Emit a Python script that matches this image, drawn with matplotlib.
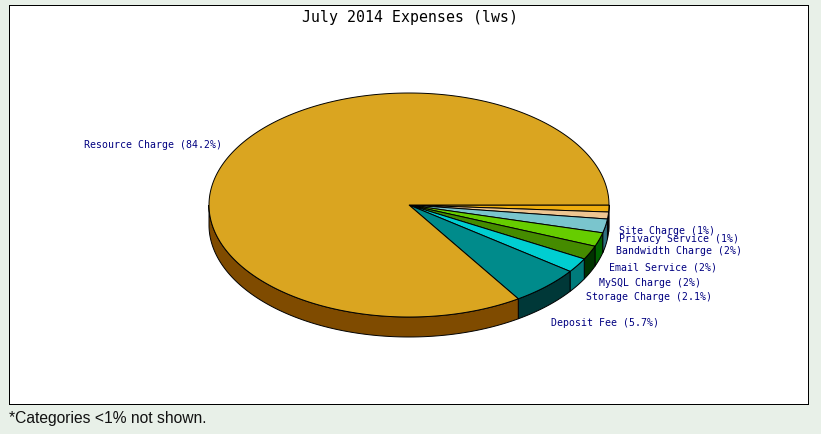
import numpy as np
import matplotlib
matplotlib.use('Agg')
import matplotlib.pyplot as plt
from matplotlib.patches import Rectangle

# slices go clockwise starting from 3 o'clock
categories = ['Site Charge', 'Privacy Service', 'Bandwidth Charge', 'Email Service',
              'MySQL Charge', 'Storage Charge', 'Deposit Fee', 'Resource Charge']
values = [1, 1, 2, 2, 2, 2.1, 5.7, 84.2]
value_labels = ['1%', '1%', '2%', '2%', '2%', '2.1%', '5.7%', '84.2%']
top_colors = ['#EEAD0E', '#EEC591', '#7AC5CD', '#66CD00', '#458B00', '#00CED1', '#008B8B', '#DAA520']
side_colors = ['#7F5A08', '#7F6A4A', '#2F6F7F', '#006400', '#003300', '#007B7B', '#003838', '#7F4B00']

# layout in pixels
label_x = [619, 619, 616, 609, 599, 586, 551, 84]
label_y = [231.5, 239.5, 251.5, 267.5, 282.5, 297.5, 322.5, 144.5]
cx, cy = 409, 205
rx, ry = 200, 112
depth = 20

fig = plt.figure(figsize=(8.21, 4.34), dpi=100, facecolor='#E8F0E8')
ax = fig.add_axes([0, 0, 1, 1])
ax.set_xlim(0, 821)
ax.set_ylim(434, 0)
ax.axis('off')

ax.add_patch(Rectangle((9, 5), 799, 399, fc='white', ec='black', lw=0.5, antialiased=False))

edges = np.concatenate([[0], np.cumsum(values)]) / sum(values) * 2 * np.pi

def arc(a, b):
    t = np.linspace(a, b, max(int((b - a) * 80), 2))
    return cx + rx * np.cos(t), cy + ry * np.sin(t)

# side wall, only the front half shows
for i in range(len(values)):
    a, b = edges[i], min(edges[i + 1], np.pi)
    if a >= np.pi:
        continue
    x, y = arc(a, b)
    ax.fill(np.r_[x, x[::-1]], np.r_[y, y[::-1] + depth],
            fc=side_colors[i], ec='black', lw=0.7, zorder=2)

# top of the pie
for i in range(len(values)):
    x, y = arc(edges[i], edges[i + 1])
    ax.fill(np.r_[cx, x], np.r_[cy, y], fc=top_colors[i], ec='black', lw=0.7, zorder=3)

for name, val, x, y in zip(categories, value_labels, label_x, label_y):
    ax.text(x, y, f'{name} ({val})', color='#000080', fontsize=7.1, family='DejaVu Sans Mono',
            ha='left', va='center', zorder=4)

ax.text(409.5, 17.5, 'July 2014 Expenses (lws)', color='black', fontsize=10.75,
        family='DejaVu Sans Mono', ha='center', va='center', zorder=4)
ax.text(9, 418, '*Categories <1% not shown.', color='#111111', fontsize=11.25,
        family='Liberation Sans', ha='left', va='center')

fig.savefig('out.png', dpi=100, facecolor=fig.get_facecolor())
